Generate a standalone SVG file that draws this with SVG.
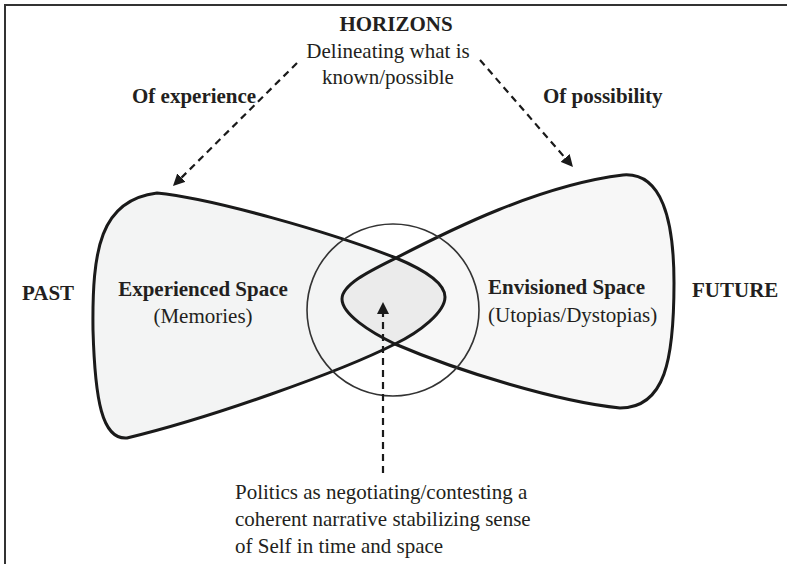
<svg xmlns="http://www.w3.org/2000/svg" width="787" height="564" viewBox="0 0 787 564">
<style>
  text { font-family: "Liberation Serif", "Times New Roman", serif; font-size: 21px; fill: #231f20; }
  .b { font-weight: bold; }
  .c { text-anchor: middle; }
  .fill { stroke: none; }
  .edge { fill: none; stroke: #1a1a1a; stroke-width: 3; stroke-linejoin: round; }
  .conn { fill: none; stroke: #1a1a1a; stroke-width: 2.2; stroke-dasharray: 7 5; }
  .frame { fill: none; stroke: #333; stroke-width: 2; }
</style>
<defs>
  <marker id="arrow" viewBox="0 0 12 12" markerWidth="12" markerHeight="12" refX="0" refY="6" orient="auto" markerUnits="userSpaceOnUse">
    <path d="M0,0 L12,6 L0,12 Z" fill="#1a1a1a"/>
  </marker>
</defs>
<rect width="787" height="564" fill="#ffffff"/>
<path class="frame" d="M5,564 L5,5 L787,5"/>

<g id="experienced-space">
  <path class="fill" fill="#f3f4f4" d="M157,193 C210,198 330,232 396,258 C420,268 445,282 445,297 C445,312 420,332 395,344 C340,372 210,418 127,438 C102,440 95,400 93,330 C92,250 100,200 157,193 Z"/>
</g>
<g id="envisioned-space">
  <path class="fill" fill="#f7f7f7" d="M623,175 C662,172 674,220 674,283 C674,360 665,408 620,408 C560,402 460,372 395,344 C370,332 342,314 342,299 C342,284 372,270 396,258 C450,230 540,185 623,175 Z"/>
</g>
<g id="overlap">
  <path class="fill" fill="#ebebeb" d="M342,299 C342,284 372,270 396,258 C420,268 445,282 445,297 C445,312 420,332 395,344 C370,332 342,314 342,299 Z"/>
</g>
<g id="experienced-outline">
  <path class="edge" d="M157,193 C210,198 330,232 396,258 C420,268 445,282 445,297 C445,312 420,332 395,344 C340,372 210,418 127,438 C102,440 95,400 93,330 C92,250 100,200 157,193 Z"/>
  <text class="b c" x="203" y="296">Experienced Space</text>
  <text class="c" x="203" y="323">(Memories)</text>
</g>
<g id="envisioned-outline">
  <path class="edge" d="M623,175 C662,172 674,220 674,283 C674,360 665,408 620,408 C560,402 460,372 395,344 C370,332 342,314 342,299 C342,284 372,270 396,258 C450,230 540,185 623,175 Z"/>
  <text class="b" x="488" y="294">Envisioned Space</text>
  <text x="488" y="322">(Utopias/Dystopias)</text>
</g>
<g id="present">
  <circle cx="393" cy="310" r="86" fill="none" stroke="#333" stroke-width="1.6"/>
</g>
<g id="horizons">
  <text class="b c" x="396" y="31">HORIZONS</text>
  <text class="c" x="388" y="58">Delineating what is</text>
  <text class="c" x="388" y="84">known/possible</text>
</g>
<g id="of-experience">
  <text class="b" x="132" y="103">Of experience</text>
</g>
<g id="of-possibility">
  <text class="b" x="543" y="103">Of possibility</text>
</g>
<g id="past">
  <text class="b" x="22" y="300">PAST</text>
</g>
<g id="future">
  <text class="b" x="692" y="297">FUTURE</text>
</g>
<g id="politics">
  <text x="235" y="499">Politics as negotiating/contesting a</text>
  <text x="235" y="526">coherent narrative stabilizing sense</text>
  <text x="235" y="553">of Self in time and space</text>
</g>
<g id="connectors">
  <path class="conn" d="M297,63 L181.5,177.6" marker-end="url(#arrow)"/>
  <path class="conn" d="M480,60 L565.1,157.9" marker-end="url(#arrow)"/>
  <path class="conn" d="M383,473 L383,314" marker-end="url(#arrow)"/>
</g>
</svg>
